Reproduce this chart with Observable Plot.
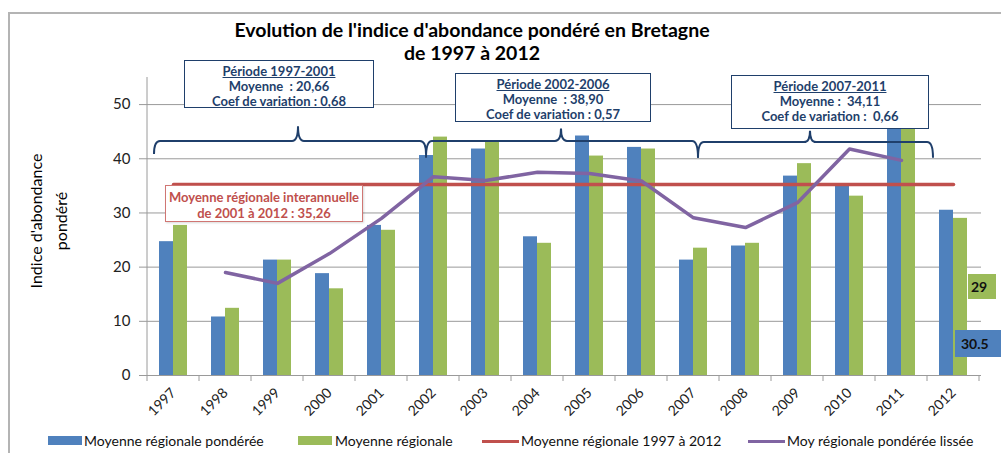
<!DOCTYPE html>
<html><head><meta charset="utf-8">
<script src="https://cdn.jsdelivr.net/npm/d3@7"></script>
<script src="https://cdn.jsdelivr.net/npm/@observablehq/plot@0.6"></script>
<style>
body{margin:0;background:#fff;font-family:Lato,"Open Sans",sans-serif;}
#wrap{position:relative;width:1001px;height:453px;overflow:hidden;background:#fff;}
#wrap svg{position:absolute;left:0;top:0;}
.frame{position:absolute;left:8px;top:12px;width:1200px;height:600px;border:2px solid #b4b4b4;box-sizing:border-box;}
.title{position:absolute;left:172px;width:600px;text-align:center;font-weight:bold;font-size:19.5px;color:#000;}
.ytitle{position:absolute;left:48px;top:221px;transform:translate(-50%,-50%) rotate(-90deg);font-size:16px;color:#000;text-align:center;line-height:25px;white-space:nowrap;}
.pbox{position:absolute;background:#fff;border:1.5px solid #1f3f6b;color:#1f3f6b;font-weight:bold;font-size:13px;text-align:center;line-height:15px;box-sizing:border-box;padding-top:3px;}
.pbox u{text-decoration:underline;}
.rbox{position:absolute;background:#fff;border:1px solid #d07673;color:#c0504d;font-weight:bold;font-size:13px;text-align:center;line-height:16px;box-sizing:border-box;padding-top:3px;box-shadow:1px 1px 2px rgba(0,0,0,0.15);}
.dlab{position:absolute;font-weight:bold;font-size:14px;color:#111;box-sizing:border-box;}
.leg{position:absolute;top:433px;font-size:14px;color:#111;white-space:nowrap;line-height:16px;}
.sw{position:absolute;}
</style></head><body><div id="wrap"></div>
<script>
const years = ["1997","1998","1999","2000","2001","2002","2003","2004","2005","2006","2007","2008","2009","2010","2011","2012"];
const ponderee = [24.7, 10.8, 21.3, 18.8, 27.7, 40.6, 41.8, 25.6, 44.2, 42.1, 21.3, 23.9, 36.8, 35.3, 53.2, 30.5];
const regionale = [27.7, 12.4, 21.3, 16.0, 26.8, 44.0, 43.0, 24.4, 40.5, 41.8, 23.5, 24.4, 39.1, 33.1, 49.0, 29.0];
const lisseeYears = ["1998","1999","2000","2001","2002","2003","2004","2005","2006","2007","2008","2009","2010","2011"];
const lissee = [19.0, 17.0, 22.5, 29.0, 36.7, 36.0, 37.5, 37.3, 35.9, 29.1, 27.3, 31.9, 41.8, 39.7];
const moyenneInterannuelle = 35.26;
const yTicks = [0, 10, 20, 30, 40, 50];
const seriesNames = ["Moyenne régionale pondérée", "Moyenne régionale", "Moyenne régionale 1997 à 2012", "Moy régionale pondérée  lissée"];
const colors = ["#4f81bd", "#9bbb59", "#c0504d", "#8064a2"];
const periodes = [
  ["Période 1997-2001", "Moyenne\u00a0\u00a0: 20,66", "Coef de variation : 0,68"],
  ["Période 2002-2006", "Moyenne\u00a0\u00a0: 38,90", "Coef de variation : 0,57"],
  ["Période 2007-2011", "Moyenne\u00a0:\u00a0\u00a034,11", "Coef de variation :\u00a0\u00a00,66"]
];
const noteMoyenne = ["Moyenne régionale interannuelle", "de 2001 à 2012 : 35,26"];
const labels2012 = ["29", "30.5"];

const rows = years.map((y, i) => ({year: y, p: ponderee[i], r: regionale[i]}));
const smoothRows = lisseeYears.map((y, i) => ({year: y, v: lissee[i]}));

const wrap = document.getElementById("wrap");
const frame = document.createElement("div"); frame.className = "frame"; wrap.appendChild(frame);

const chart = Plot.plot({
  width: 1001, height: 453,
  marginLeft: 145, marginRight: 20, marginTop: 77, marginBottom: 78,
  style: {fontFamily: "Lato, 'Open Sans', sans-serif", fontSize: "14px", color: "#222", background: "transparent", overflow: "visible"},
  x: {domain: years, padding: 0, label: null},
  y: {domain: [0, 55], label: null},
  marks: [
    Plot.gridY(yTicks.filter(d => d > 0), {stroke: "#9a9a9a", strokeOpacity: 1}),
    Plot.axisY(yTicks, {tickSize: 6, tickPadding: 9, label: null, stroke: "#9a9a9a", fill: "#222", fontSize: 15}),
    Plot.axisX({tickSize: 0, tickRotate: -45, tickPadding: 15, label: null, fill: "#222", fontSize: 14}),
    Plot.barY(rows, {x: "year", y: "p", fill: colors[0], insetLeft: 12, insetRight: 26}),
    Plot.barY(rows, {x: "year", y: "r", fill: colors[1], insetLeft: 26, insetRight: 12}),
    Plot.ruleY([0], {stroke: "#9a9a9a"}),
    Plot.lineY(years, {x: d => d, y: () => moyenneInterannuelle, stroke: colors[2], strokeWidth: 3.5}),
    Plot.line(smoothRows, {x: "year", y: "v", stroke: colors[3], strokeWidth: 3.5})
  ]
});
wrap.appendChild(chart);

const xs = chart.scale("x"), ys = chart.scale("y");
const bw = xs.bandwidth;
const svg = d3.select(chart);
const y0 = ys.apply(0);
const xStart = xs.apply(years[0]);
const xEnd = xs.apply(years[years.length - 1]) + bw;
const g = svg.append("g");
g.append("line").attr("x1", xStart).attr("x2", xStart).attr("y1", y0).attr("y2", ys.apply(55)).attr("stroke", "#9a9a9a");
years.concat(["end"]).forEach((y, i) => {
  const xx = i < years.length ? xs.apply(y) : xEnd;
  g.append("line").attr("x1", xx).attr("x2", xx).attr("y1", y0).attr("y2", y0 + 6).attr("stroke", "#9a9a9a");
});
// accolades des périodes
function brace(xa, xb, xm, vb, vt, ve) {
  const yb = ys.apply(vb), yt = ys.apply(vt), ye = ys.apply(ve), r = 6;
  const d = `M${xa},${ye} Q${xa},${yb} ${xa + r},${yb} L${xm - r},${yb} Q${xm},${yb} ${xm},${yt} Q${xm},${yb} ${xm + r},${yb} L${xb - r},${yb} Q${xb},${yb} ${xb},${ye}`;
  g.append("path").attr("d", d).attr("fill", "none").attr("stroke", "#1f3f6b").attr("stroke-width", 2);
}
brace(xs.apply("1997") + 7, xs.apply("2002") + 19, xs.apply("2000") - 5, 43.2, 45.9, 40.8);
brace(xs.apply("2002") + 19, xs.apply("2007") + 31, xs.apply("2005") - 2, 43.2, 45.5, 40.1);
brace(xs.apply("2007") + 31, xs.apply("2012") + 6, xs.apply("2010") - 13, 43.0, 45.1, 40.1);

function div(cls, css, html) {
  const e = document.createElement("div"); e.className = cls; Object.assign(e.style, css); e.innerHTML = html; wrap.appendChild(e); return e;
}
div("title", {top: "18px"}, "Evolution de l'indice d'abondance pondéré en Bretagne");
div("title", {top: "41px"}, "de 1997 à 2012");
div("ytitle", {}, "Indice d'abondance<br>pondéré");
const boxPos = [[184, 60, 190, 48], [455, 73, 196, 49], [731, 75, 198, 54]];
periodes.forEach((p, i) => {
  const [l, t, w, h] = boxPos[i];
  div("pbox", {left: l + "px", top: t + "px", width: w + "px", height: h + "px"}, `<u>${p[0]}</u><br>${p[1]}<br>${p[2]}`);
});
div("rbox", {left: "165px", top: "185px", width: "198px", height: "37px"}, noteMoyenne.join("<br>"));
div("dlab", {left: "968px", top: "274px", width: "28px", height: "25px", background: colors[1], paddingLeft: "3px", paddingTop: "4px"}, labels2012[0]);
div("dlab", {left: "955px", top: "330px", width: "50px", height: "27px", background: colors[0], paddingLeft: "6px", paddingTop: "5px"}, labels2012[1]);

const legPos = [[48, 84], [298, 335], [482, 521], [748, 787]];
seriesNames.forEach((n, i) => {
  const [sx, tx] = legPos[i];
  const isLine = i >= 2;
  div("sw", {left: sx + "px", top: (isLine ? 439.5 : 436) + "px", width: (isLine ? 37 : 34) + "px", height: (isLine ? 3.5 : 9) + "px", background: colors[i]}, "");
  div("leg", {left: tx + "px"}, n);
});
</script></body></html>
